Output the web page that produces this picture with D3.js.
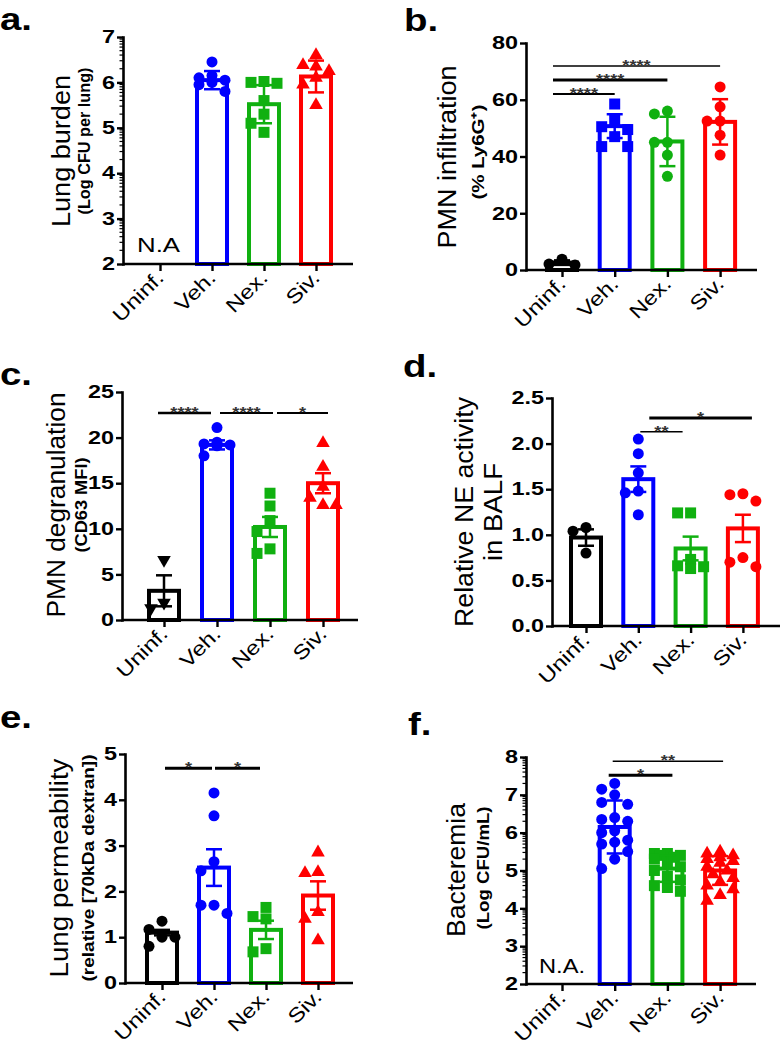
<!DOCTYPE html>
<html><head><meta charset="utf-8">
<script src="https://cdn.jsdelivr.net/npm/d3@7"></script>
<style>
body{margin:0;background:#fff}
svg{display:block}
text{font-family:"Liberation Sans",Arial,Helvetica,sans-serif}
</style>
</head><body>
<svg id="chart" width="780" height="1049"></svg>
<script>
// ---------------- DATA ----------------
const categories = ["Uninf.", "Veh.", "Nex.", "Siv."];

// a. Lung burden (Log CFU per lung)
const aTicks = [2, 3, 4, 5, 6, 7];
const aMeans = [null, 6.05, 5.52, 6.13];
const aErr = [null, 0.2, 0.42, 0.35];
const aPoints = [
  [],
  [6.45, 6.15, 6.1, 6.05, 6.0, 5.95, 5.8],
  [6.02, 6.0, 5.98, 5.6, 5.3, 5.1, 4.9],
  [6.6, 6.38, 6.35, 6.25, 6.1, 5.95, 5.5]
];
const aSig = [];

// b. PMN infiltration (% Ly6G+)
const bTicks = [0, 20, 40, 60, 80];
const bMeans = [2.6, 50.7, 45.3, 52.2];
const bErr = [0.8, 4.2, 8.7, 8.0];
const bPoints = [
  [3.8, 2.1, 1.8],
  [58.5, 53, 50.5, 49.5, 47, 43.5, 43.5],
  [56, 55, 45, 45, 40.5, 33],
  [64.5, 57.5, 52.5, 52.5, 47.5, 40.5]
];
const bSig = [
  {from: "Uninf.", to: "Veh.", y: 62.0, label: "****"},
  {from: "Uninf.", to: "Nex.", y: 67.0, label: "****"},
  {from: "Uninf.", to: "Siv.", y: 71.9, label: "****"}
];

// c. PMN degranulation (CD63 MFI)
const cTicks = [0, 5, 10, 15, 20, 25];
const cMeans = [3.2, 19.2, 10.2, 15.0];
const cErr = [1.7, 0.5, 1.1, 1.1];
const cPoints = [
  [6.6, 1.9, 1.3],
  [21.1, 19.5, 19.3, 19.2, 19.1, 18.0],
  [13.9, 12.5, 10.9, 9.7, 7.8, 7.3],
  [19.4, 16.8, 14.6, 13.4, 12.6, 12.6]
];
const cSig = [
  {from: "Uninf.", to: "Veh.", y: 22.7, label: "****"},
  {from: "Veh.", to: "Nex.", y: 22.7, label: "****"},
  {from: "Nex.", to: "Siv.", y: 22.7, label: "*"}
];

// d. Relative NE activity in BALF
const dTicks = [0, 0.5, 1.0, 1.5, 2.0, 2.5];
const dMeans = [0.97, 1.61, 0.85, 1.07];
const dErr = [0.09, 0.14, 0.13, 0.15];
const dPoints = [
  [1.08, 1.04, 0.8],
  [2.05, 1.89, 1.68, 1.48, 1.46, 1.22],
  [1.24, 1.24, 0.73, 0.66, 0.65, 0.63],
  [1.45, 1.44, 1.37, 0.75, 0.7, 0.65]
];
const dSig = [
  {from: "Veh.", to: "Nex.", y: 2.13, label: "**"},
  {from: "Veh.", to: "Siv.", y: 2.28, label: "*"}
];

// e. Lung permeability (relative [70kDa dextran])
const eTicks = [0, 1, 2, 3, 4, 5];
const eMeans = [1.1, 2.52, 1.16, 1.91];
const eErr = [0.06, 0.4, 0.2, 0.31];
const ePoints = [
  [1.35, 1.17, 1.0, 1.0, 0.8],
  [4.15, 3.65, 2.65, 2.45, 1.7, 1.7, 1.52],
  [1.65, 1.45, 1.4, 0.75, 0.68],
  [2.85, 2.42, 2.4, 1.55, 1.4, 0.93]
];
const eSig = [
  {from: "Uninf.", to: "Veh.", y: 4.69, label: "*"},
  {from: "Veh.", to: "Nex.", y: 4.69, label: "*"}
];

// f. Bacteremia (Log CFU/mL)
const fTicks = [2, 3, 4, 5, 6, 7, 8];
const fMeans = [null, 6.15, 5.05, 5.0];
const fErr = [null, 0.7, 0.35, 0.38];
const fPoints = [
  [],
  [7.3, 7.15, 7.0, 6.8, 6.75, 6.4, 6.35, 6.3, 6.05, 6.0, 5.8, 5.75, 5.7, 5.5, 5.3, 5.05],
  [5.45, 5.45, 5.4, 5.4, 5.35, 5.3, 5.2, 5.1, 5.0, 4.85, 4.75, 4.6, 4.55, 4.45],
  [5.5, 5.45, 5.4, 5.35, 5.3, 5.25, 5.2, 5.1, 5.0, 4.9, 4.8, 4.7, 4.6, 4.5, 4.35, 4.2]
];
const fSig = [
  {from: "Veh.", to: "Nex.", y: 7.52, label: "*"},
  {from: "Veh.", to: "Siv.", y: 7.89, label: "**"}
];

// ---------------- STYLE / LAYOUT ----------------
const groupColors = ["#000000", "#0000ff", "#10b010", "#ff0000"];

const panels = [
  {letter: "a.", lx: 0, ly: 30, x0: 123, xEnd: 353, yTop: 37, yBot: 264, c0: 160, step: 52,
   domain: [2, 7], ticks: aTicks, fmt: d3.format("d"), minor: true,
   means: aMeans, err: aErr, pts: aPoints, sig: aSig, sigStyle: [],
   marks: ["circle", "circle", "square", "triUp"],
   title: {text: "Lung burden", x: 70, y: 151, len: 152, size: 25, weight: "normal"},
   sub: {text: "(Log CFU per lung)", x: 90, y: 141, len: 147, size: 16, weight: "bold"},
   na: {text: "N.A", x: 137, y: 252, len: 43}},
  {letter: "b.", lx: 404, ly: 31, x0: 526, xEnd: 757, yTop: 43, yBot: 270, c0: 562, step: 52.7,
   domain: [0, 80], ticks: bTicks, fmt: d3.format("d"), minor: false,
   means: bMeans, err: bErr, pts: bPoints, sig: bSig,
   sigStyle: [{o1: -9, o2: 0, w: 2}, {o1: -9, o2: 0, w: 3}, {o1: -9, o2: 0, w: 1.5}],
   marks: ["circle", "square", "circle", "circle"],
   title: {text: "PMN infiltration", x: 456, y: 157, len: 183, size: 25, weight: "normal"},
   sub: {text: "(% Ly6G\u207A)", x: 484, y: 152, len: 95, size: 17, weight: "bold"}},
  {letter: "c.", lx: 0, ly: 385, x0: 122, xEnd: 358, yTop: 392, yBot: 620, c0: 164, step: 53,
   domain: [0, 25], ticks: cTicks, fmt: d3.format("d"), minor: false,
   means: cMeans, err: cErr, pts: cPoints, sig: cSig,
   sigStyle: [{o1: -6, o2: -6, w: 2.5}, {o1: 3, o2: 3, w: 2}, {o1: 7, o2: 5, w: 1.8}],
   marks: ["triDown", "circle", "square", "triUp"],
   title: {text: "PMN degranulation", x: 65, y: 505, len: 225, size: 25, weight: "normal"},
   sub: {text: "(CD63 MFI)", x: 87, y: 505, len: 95, size: 16, weight: "bold"}},
  {letter: "d.", lx: 403, ly: 377, x0: 552, xEnd: 780, yTop: 398, yBot: 626, c0: 586, step: 52.3,
   domain: [0, 2.5], ticks: dTicks, fmt: d3.format(".1f"), minor: false,
   means: dMeans, err: dErr, pts: dPoints, sig: dSig,
   sigStyle: [{o1: 2, o2: -8, w: 1.5}, {o1: 11, o2: 9, w: 3}],
   marks: ["circle", "circle", "square", "circle"],
   title: {text: "Relative NE activity", x: 473, y: 512, len: 230, size: 25, weight: "normal"},
   sub: {text: "in BALF", x: 502, y: 512, len: 98, size: 25, weight: "normal"}},
  {letter: "e.", lx: 0, ly: 728, x0: 125, xEnd: 353, yTop: 754, yBot: 983, c0: 162, step: 52,
   domain: [0, 5], ticks: eTicks, fmt: d3.format("d"), minor: false,
   means: eMeans, err: eErr, pts: ePoints, sig: eSig,
   sigStyle: [{o1: 3, o2: -2, w: 3}, {o1: 1, o2: -6, w: 3}],
   marks: ["circle", "circle", "square", "triUp"],
   title: {text: "Lung permeability", x: 68, y: 868, len: 219, size: 25, weight: "normal"},
   sub: {text: "(relative [70kDa dextran])", x: 94, y: 868, len: 227, size: 16, weight: "bold"}},
  {letter: "f.", lx: 408, ly: 735, x0: 526, xEnd: 756, yTop: 757, yBot: 984, c0: 562, step: 52.7,
   domain: [2, 8], ticks: fTicks, fmt: d3.format("d"), minor: true,
   means: fMeans, err: fErr, pts: fPoints, sig: fSig,
   sigStyle: [{o1: -6, o2: 5, w: 3}, {o1: -2, o2: 3, w: 1.5}],
   marks: ["circle", "circle", "square", "triUp"],
   title: {text: "Bacteremia", x: 465, y: 870, len: 134, size: 25, weight: "normal"},
   sub: {text: "(Log CFU/mL)", x: 489, y: 868, len: 123, size: 16, weight: "bold"},
   na: {text: "N.A.", x: 539, y: 973, len: 46}}
];

// ---------------- DRAW ----------------
const svg = d3.select("#chart");

function stretch(sel, f) {
  sel.each(function () {
    const w = this.getComputedTextLength();
    d3.select(this).attr("textLength", w * f).attr("lengthAdjust", "spacingAndGlyphs");
  });
}

function swarm(vals, y, r, cols) {
  const placed = [], out = [];
  const order = vals.map((v, i) => [v, i]).sort((p, q) => q[0] - p[0]);
  for (const [v, i] of order) {
    const py = y(v);
    let best = 0, bestScore = Infinity;
    for (const dx of cols) {
      let ov = 0;
      for (const p of placed) {
        const d = Math.hypot(p.dx - dx, p.py - py);
        if (d < 2 * r) ov += 2 * r - d;
      }
      if (ov === 0) { best = dx; break; }
      if (ov < bestScore) { bestScore = ov; best = dx; }
    }
    placed.push({dx: best, py});
    out[i] = best;
  }
  return out;
}

const symbolFor = {
  circle: d3.symbol().type(d3.symbolCircle).size(Math.PI * 5.5 * 5.5)(),
  square: d3.symbol().type(d3.symbolSquare).size(11 * 11)(),
  triUp: d3.symbol().type(d3.symbolTriangle).size(80)(),
  triDown: d3.symbol().type(d3.symbolTriangle).size(80)()
};

panels.forEach(p => {
  const g = svg.append("g");
  const y = d3.scaleLinear().domain(p.domain).range([p.yBot, p.yTop]);
  const x = d3.scalePoint().domain(categories).range([p.c0, p.c0 + 3 * p.step]);

  // panel letter
  g.append("text").attr("x", p.lx).attr("y", p.ly)
    .attr("font-size", 32).attr("font-weight", "bold").text(p.letter)
    .call(stretch, 1.2);

  // bars
  categories.forEach((c, i) => {
    const m = p.means[i];
    if (m == null) return;
    g.append("rect")
      .attr("x", x(c) - 15).attr("y", y(m))
      .attr("width", 30).attr("height", y(p.domain[0]) - y(m))
      .attr("fill", "#fff").attr("stroke", groupColors[i]).attr("stroke-width", 4);
  });

  // points
  categories.forEach((c, i) => {
    const vals = p.pts[i];
    if (!vals.length) return;
    const offs = swarm(vals, y, 5.5, [0, -13, 13, -7, 7]);
    g.selectAll(null).data(vals).enter().append("path")
      .attr("d", symbolFor[p.marks[i]])
      .attr("transform", (v, k) => `translate(${x(c) + offs[k]},${y(v)})` + (p.marks[i] === "triDown" ? " rotate(180)" : ""))
      .attr("fill", groupColors[i]);
  });

  // error bars
  categories.forEach((c, i) => {
    const m = p.means[i];
    if (m == null) return;
    const e = p.err[i], cx = x(c);
    const eg = g.append("g").attr("stroke", groupColors[i]).attr("stroke-width", 2.5);
    eg.append("line").attr("x1", cx).attr("x2", cx).attr("y1", y(m - e)).attr("y2", y(m + e));
    [m - e, m + e].forEach(v => {
      eg.append("line").attr("x1", cx - 8).attr("x2", cx + 8).attr("y1", y(v)).attr("y2", y(v));
    });
  });

  // y axis
  const ya = g.append("g").attr("transform", `translate(${p.x0},0)`)
    .call(d3.axisLeft(y).tickValues(p.ticks).tickFormat(p.fmt).tickSize(6).tickPadding(2).tickSizeOuter(0));
  ya.attr("font-family", null).attr("font-size", 18).attr("font-weight", "bold");
  ya.select(".domain").attr("stroke-width", 2.6).attr("stroke-linecap", "square");
  ya.selectAll(".tick line").attr("stroke-width", 2.4);
  ya.selectAll(".tick text").attr("fill", "#000").call(stretch, 1.3);
  if (p.minor) {
    const minors = [];
    for (let n = p.domain[0]; n < p.domain[1]; n++) {
      for (let k = 2; k <= 9; k++) minors.push(n + Math.log10(k));
    }
    g.selectAll(null).data(minors).enter().append("line")
      .attr("x1", p.x0 - 3.5).attr("x2", p.x0).attr("y1", d => y(d)).attr("y2", d => y(d))
      .attr("stroke", "#000").attr("stroke-width", 1.2);
  }

  // x axis
  g.append("line").attr("x1", p.x0).attr("x2", p.xEnd).attr("y1", p.yBot).attr("y2", p.yBot)
    .attr("stroke", "#000").attr("stroke-width", 2.6);
  const xa = g.append("g").attr("transform", `translate(0,${p.yBot})`)
    .call(d3.axisBottom(x).tickSize(7).tickSizeOuter(0).tickFormat(""));
  xa.select(".domain").remove();
  xa.selectAll(".tick line").attr("stroke-width", 2.4);
  categories.forEach(c => {
    g.append("text")
      .attr("transform", `translate(${x(c) + 5},${p.yBot + 15}) rotate(-45)`)
      .attr("text-anchor", "end").attr("font-size", 20).text(c)
      .call(stretch, 1.2);
  });

  // y labels
  [p.title, p.sub].forEach(t => {
    g.append("text")
      .attr("transform", `translate(${t.x},${t.y}) rotate(-90)`)
      .attr("text-anchor", "middle").attr("font-size", t.size).attr("font-weight", t.weight)
      .attr("textLength", t.len).attr("lengthAdjust", "spacingAndGlyphs")
      .text(t.text);
  });

  // N.A. label
  if (p.na) {
    g.append("text").attr("x", p.na.x).attr("y", p.na.y).attr("font-size", 20)
      .attr("textLength", p.na.len).attr("lengthAdjust", "spacingAndGlyphs").text(p.na.text);
  }

  // significance bars
  p.sig.forEach((s, k) => {
    const st = p.sigStyle[k];
    const x1 = x(s.from) + st.o1, x2 = x(s.to) + st.o2, yy = y(s.y);
    g.append("line").attr("x1", x1).attr("x2", x2).attr("y1", yy).attr("y2", yy)
      .attr("stroke", "#000").attr("stroke-width", st.w);
    g.append("text").attr("x", (x1 + x2) / 2).attr("y", yy + 4)
      .attr("text-anchor", "middle").attr("font-size", 14).attr("font-weight", "bold")
      .attr("fill", "#333").text(s.label).call(stretch, 1.3);
  });
});
</script>
</body></html>
